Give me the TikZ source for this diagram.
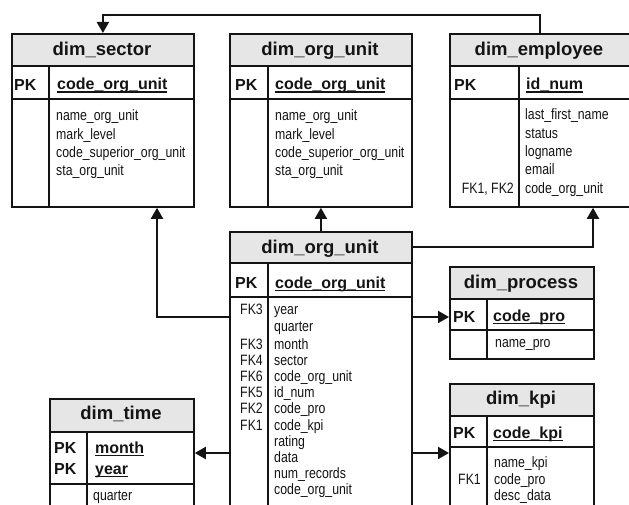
\documentclass[tikz,border=0pt]{standalone}
\usepackage{fontspec}
\setmainfont{Liberation Sans}
\newfontfamily\narrowf[FakeStretch=0.82]{Liberation Sans}
\usetikzlibrary{arrows.meta}
\definecolor{hdrgray}{RGB}{230,230,230}
\definecolor{inkc}{RGB}{20,20,20}
\newcommand{\pkul}[1]{\setbox0\hbox{#1}\rlap{\rule[-2.6pt]{\wd0}{1.1pt}}\box0}
\begin{document}
\begin{tikzpicture}[x=1pt,y=-1pt,
  tbl/.style={draw=inkc, line width=1.8pt, inner sep=0pt, anchor=north west,
    path picture={\fill[hdrgray] (path picture bounding box.north west) rectangle ([yshift=-#1]path picture bounding box.north east);}},
  inl/.style={draw=inkc, line width=1.2pt},
  conn/.style={draw=inkc, line width=2pt, -{Triangle[length=11pt,width=12pt]}},
  hd/.style={font=\bfseries\fontsize{18.5}{20}\selectfont, text=inkc, anchor=base, inner sep=0pt},
  pk/.style={font=\bfseries\fontsize{16}{18}\selectfont, text=inkc, anchor=base west, inner sep=0pt},
  bd/.style={font=\narrowf\fontsize{15}{16}\selectfont, text=inkc, anchor=base west, inner sep=0pt},
  fk/.style={bd, anchor=base east}]
\useasboundingbox (0,0) rectangle (629,505);
\clip (0,0) rectangle (629,505);
\fill[white] (0,0) rectangle (629,505);

% ---------- dim_sector ----------
\node[tbl=33pt, minimum width=182pt, minimum height=173pt] (sector) at (11,33) {};
\draw[inl] (11,66) -- (193,66);
\draw[inl] (11,99) -- (193,99);
\draw[inl] (49,66) -- (49,206);
\node[hd] (sectorh) at (102,56) {dim\_sector};
\node[pk] (sectorpk) at (14,90.5) {PK};
\node[pk] (sectorid) at (57,90) {\pkul{code\_org\_unit}};
\foreach \t [count=\i] in {name\_org\_unit, mark\_level, code\_superior\_org\_unit, sta\_org\_unit}
  \node[bd] (sb\i) at (56,{121+18.3*(\i-1)}) {\t};

% ---------- dim_org_unit (top) ----------
\node[tbl=33pt, minimum width=182pt, minimum height=173pt] (orgtop) at (229,33) {};
\draw[inl] (229,66) -- (411,66);
\draw[inl] (229,99) -- (411,99);
\draw[inl] (268,66) -- (268,206);
\node[hd] (orgtoph) at (320,56) {dim\_org\_unit};
\node[pk] (orgtoppk) at (235,90.5) {PK};
\node[pk] (orgtopid) at (275,90) {\pkul{code\_org\_unit}};
\foreach \t [count=\i] in {name\_org\_unit, mark\_level, code\_superior\_org\_unit, sta\_org\_unit}
  \node[bd] (ob\i) at (275,{121+18.3*(\i-1)}) {\t};

% ---------- dim_employee ----------
\node[tbl=33pt, minimum width=200pt, minimum height=173pt] (emp) at (449,33) {};
\draw[inl] (449,66) -- (649,66);
\draw[inl] (449,99) -- (649,99);
\draw[inl] (519,66) -- (519,206);
\node[hd] (emph) at (539,56) {dim\_employee};
\node[pk] (emppk) at (454,90.5) {PK};
\node[pk] (empid) at (526,90) {\pkul{id\_num}};
\foreach \t [count=\i] in {last\_first\_name, status, logname, email, code\_org\_unit}
  \node[bd] (eb\i) at (525,{120+18.3*(\i-1)}) {\t};
\node[fk] (empfk) at (514,193.2) {FK1, FK2};

% ---------- dim_org_unit (fact) ----------
\node[tbl=32pt, minimum width=182pt, minimum height=300pt] (fact) at (229,231) {};
\draw[inl] (229,263) -- (411,263);
\draw[inl] (229,297) -- (411,297);
\draw[inl] (268,263) -- (268,531);
\node[hd] (facth) at (320,253.5) {dim\_org\_unit};
\node[pk] (factpk) at (235,288) {PK};
\node[pk] (factid) at (275,288) {\pkul{code\_org\_unit}};
\node[bd] (fb1) at (274,314.5) {year};
\node[bd] (fb2) at (274,331) {quarter};
\foreach \t [count=\i] in {month, sector, code\_org\_unit, id\_num, code\_pro, code\_kpi, rating, data, num\_records, code\_org\_unit}
  \node[bd] (fc\i) at (274,{349.5+16.1*(\i-1)}) {\t};
\node[fk] (fk1) at (263,314.5) {FK3};
\foreach \t [count=\i] in {FK3, FK4, FK6, FK5, FK2, FK1}
  \node[fk] (fkx\i) at (263,{349.5+16.1*(\i-1)}) {\t};

% ---------- dim_process ----------
\node[tbl=33pt, minimum width=144pt, minimum height=92pt] (proc) at (449,266) {};
\draw[inl] (449,299) -- (593,299);
\draw[inl] (449,330) -- (593,330);
\draw[inl] (487,299) -- (487,358);
\node[hd] (proch) at (521,288.5) {dim\_process};
\node[pk] (procpk) at (453,322) {PK};
\node[pk] (procid) at (493,321) {\pkul{code\_pro}};
\node[bd] (procb) at (495,347) {name\_pro};

% ---------- dim_kpi ----------
\node[tbl=33pt, minimum width=144pt, minimum height=150pt] (kpi) at (449,383) {};
\draw[inl] (449,416) -- (593,416);
\draw[inl] (449,447) -- (593,447);
\draw[inl] (487,416) -- (487,533);
\node[hd] (kpih) at (521,404.5) {dim\_kpi};
\node[pk] (kpipk) at (453,438) {PK};
\node[pk] (kpiid) at (493,438) {\pkul{code\_kpi}};
\foreach \t [count=\i] in {name\_kpi, code\_pro, desc\_data}
  \node[bd] (kb\i) at (494,{467.5+16.5*(\i-1)}) {\t};
\node[fk] (kpifk) at (481,484) {FK1};

% ---------- dim_time ----------
\node[tbl=34pt, minimum width=144pt, minimum height=135pt] (time) at (49,398) {};
\draw[inl] (49,432) -- (193,432);
\draw[inl] (49,484) -- (193,484);
\draw[inl] (87,432) -- (87,533);
\node[hd] (timeh) at (121,419.5) {dim\_time};
\node[pk] (timepk1) at (54,453) {PK};
\node[pk] (timepk2) at (54,474) {PK};
\node[pk] (timeid1) at (95,453) {\pkul{month}};
\node[pk] (timeid2) at (95,474) {\pkul{year}};
\node[bd] (timeb) at (93,500.5) {quarter};

% ---------- connectors ----------
\draw[conn] ([xshift=91pt]emp.north west) -- ++(0pt,18pt) -| (sector.north);
\draw[conn] ([yshift=-86pt]fact.north west) -| ([xshift=146pt]sector.south west);
\draw[conn] (fact.north) -- (orgtop.south);
\draw[conn] ([yshift=-16pt]fact.north east) -| ([xshift=144pt]emp.south west);
\draw[conn] ([yshift=-86pt]fact.north east) -- ([yshift=-51pt]proc.north west);
\draw[conn] ([yshift=-222pt]fact.north west) -- ([yshift=-55pt]time.north east);
\draw[conn] ([yshift=-222pt]fact.north east) -- ([yshift=-70pt]kpi.north west);
\end{tikzpicture}
\end{document}
